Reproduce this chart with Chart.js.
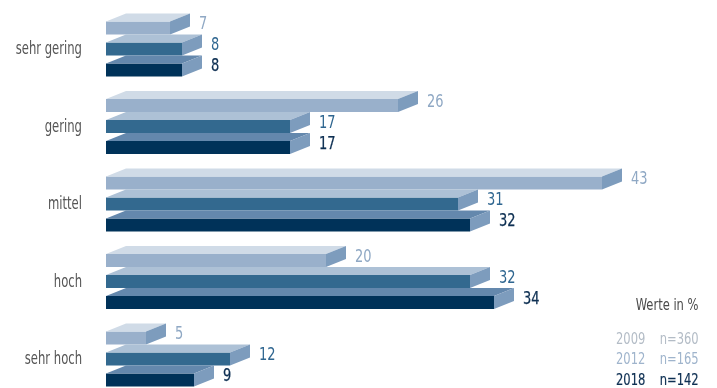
<!DOCTYPE html>
<html>
<head>
<meta charset="utf-8">
<script src="https://cdn.jsdelivr.net/npm/chart.js@4.4.1/dist/chart.umd.min.js"></script>
<style>
  html, body { margin: 0; padding: 0; background: #fff; }
  #wrap { position: relative; width: 717px; height: 388px; }
  .note { position: absolute; font-family: 'Liberation Sans Narrow', 'DejaVu Sans Condensed', sans-serif; font-size: 16px; line-height: 18px; white-space: nowrap; }
  .l { transform: scaleX(0.8); transform-origin: left center; }
  .r { transform: scaleX(0.8); transform-origin: right center; }
</style>
</head>
<body>
<div id="wrap">
  <canvas id="c" width="717" height="388"></canvas>
  <div class="note r" style="right:18px; top:296px; color:#4a4a4a;">Werte in %</div>
  <div class="note l" style="left:616px; top:330px; color:#b3bcc6;">2009</div>
  <div class="note r" style="right:18px; top:330px; color:#b3bcc6;">n=360</div>
  <div class="note l" style="left:616px; top:350px; color:#9fb4cc;">2012</div>
  <div class="note r" style="right:18px; top:350px; color:#9fb4cc;">n=165</div>
  <div class="note l" style="left:616px; top:371px; color:#0d2f52; -webkit-text-stroke:0.2px #0d2f52;">2018</div>
  <div class="note r" style="right:18px; top:371px; color:#0d2f52; -webkit-text-stroke:0.2px #0d2f52;">n=142</div>
</div>
<script>
const categories = ['sehr gering', 'gering', 'mittel', 'hoch', 'sehr hoch'];
const seriesNames = ['2009', '2012', '2018'];
const values2009 = [7, 26, 43, 20, 5];
const values2012 = [8, 17, 31, 32, 12];
const values2018 = [8, 17, 32, 34, 9];

const frontColors = ['#99b0cb', '#33698f', '#003259'];
const topColors = ['#d0dbe7', '#adc1d6', '#6488ad'];
const sideColor = '#7d9cbd';
const labelColors = ['#8fa8c4', '#2f6690', '#0d2f52'];
const FONT = "'Liberation Sans Narrow', 'DejaVu Sans Condensed', sans-serif";
const DEPTH_X = 20, DEPTH_Y = 8;

const threeD = {
  id: 'threeD',
  afterDatasetsDraw(chart) {
    const ctx = chart.ctx;
    ctx.save();
    chart.data.datasets.forEach((ds, i) => {
      const meta = chart.getDatasetMeta(i);
      meta.data.forEach((bar, j) => {
        const p = bar.getProps(['x', 'y', 'base', 'height'], true);
        const top = p.y - p.height / 2, bottom = p.y + p.height / 2;
        const fr = p.x - DEPTH_X, ft = top + DEPTH_Y;
        ctx.fillStyle = frontColors[i];
        ctx.fillRect(p.base, ft, fr - p.base, bottom - ft);
        ctx.fillStyle = topColors[i];
        ctx.beginPath();
        ctx.moveTo(p.base, ft); ctx.lineTo(p.base + DEPTH_X, top);
        ctx.lineTo(p.x, top); ctx.lineTo(fr, ft); ctx.closePath(); ctx.fill();
        ctx.fillStyle = sideColor;
        ctx.beginPath();
        ctx.moveTo(fr, ft); ctx.lineTo(p.x, top);
        ctx.lineTo(p.x, bottom - DEPTH_Y); ctx.lineTo(fr, bottom); ctx.closePath(); ctx.fill();
        ctx.save();
        ctx.translate(p.x + 9, p.y + 1);
        ctx.scale(0.85, 1);
        ctx.fillStyle = labelColors[i];
        ctx.font = '17px ' + FONT;
        ctx.textAlign = 'left';
        ctx.textBaseline = 'middle';
        if (i === 2) { ctx.strokeStyle = labelColors[i]; ctx.lineWidth = 0.25; ctx.strokeText(String(ds.data[j]), 0, 0); }
        ctx.fillText(String(ds.data[j]), 0, 0);
        ctx.restore();
      });
    });
    ctx.restore();
  }
};

// Draws the y-axis category labels (taken from the scale's own ticks) in a condensed style.
const condensedTicks = {
  id: 'condensedTicks',
  afterDraw(chart) {
    const ctx = chart.ctx;
    const s = chart.scales.y;
    ctx.save();
    ctx.fillStyle = '#555';
    ctx.font = '17px ' + FONT;
    ctx.textAlign = 'right';
    ctx.textBaseline = 'middle';
    s.ticks.forEach((t, i) => {
      const label = s.getLabelForValue(t.value);
      ctx.save();
      ctx.translate(s.right - 24, s.getPixelForTick(i) + 5);
      ctx.scale(0.76, 1);
      ctx.fillText(label, 0, 0);
      ctx.restore();
    });
    ctx.restore();
  }
};

new Chart(document.getElementById('c'), {
  type: 'bar',
  data: {
    labels: categories,
    datasets: [values2009, values2012, values2018].map((v, i) => ({
      label: seriesNames[i],
      data: v,
      backgroundColor: 'rgba(0,0,0,0)',
      borderWidth: 0,
      barThickness: 21,
      clip: false
    }))
  },
  options: {
    indexAxis: 'y',
    responsive: false,
    animation: false,
    layout: { padding: { top: 45, bottom: 33, left: 0, right: 11 } },
    plugins: { legend: { display: false }, tooltip: { enabled: false } },
    scales: {
      x: { display: false, min: 0, max: 50 },
      y: {
        offset: false,
        grid: { display: false, drawTicks: false },
        border: { display: false },
        ticks: { display: false },
        afterFit(s) { s.width = 106; }
      }
    }
  },
  plugins: [threeD, condensedTicks]
});
</script>
</body>
</html>
